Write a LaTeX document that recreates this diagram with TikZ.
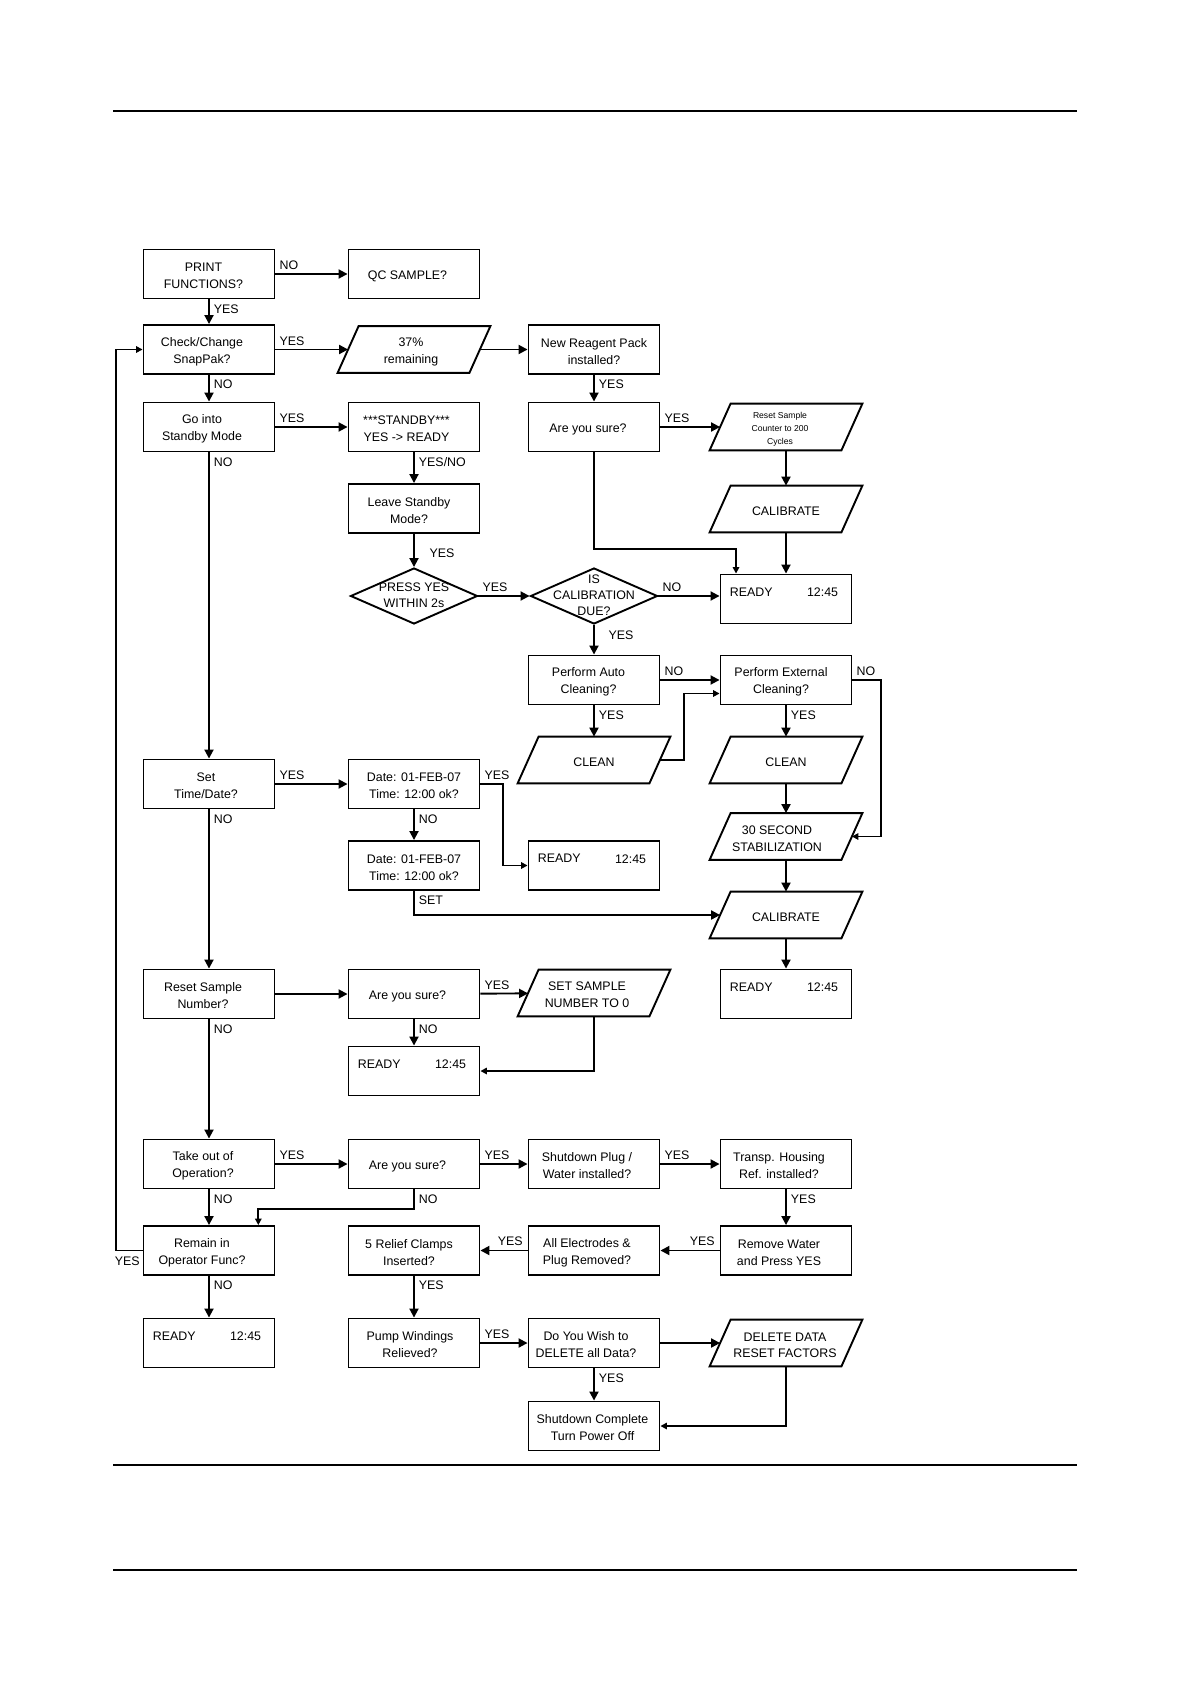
\documentclass[tikz,border=0pt]{standalone}
\usepackage{fontspec}
\setmainfont{Liberation Sans}
\usetikzlibrary{arrows.meta,shapes.geometric,calc}
% box with text shifted horizontally: [shift]{name}{x}{y}{text}
\newcommand\bx[5][0pt]{%
  \node[box,label={[txt,xshift=#1]center:{#5}}] (#2) at (#3,#4) {};}
% parallelogram: {name}{x}{y}{shift}{font}{text}
\newcommand\paranode[6]{%
  \node[pbox,label={[txt,xshift=#4,font=#5]center:{#6}}] (#1) at (#2,#3) {};
  \draw[bline] ([xshift=-5.25pt]#1.south west) -- ([xshift=5.25pt]#1.north west)
    -- ([xshift=5.25pt]#1.north east) -- ([xshift=-5.25pt]#1.south east) -- cycle;
}
\begin{document}
\begin{tikzpicture}[x=0.5pt,y=-0.5pt,
  font=\fontsize{6.2}{8.5}\selectfont,
  bline/.style={line width=0.95pt, line join=miter},
  box/.style={draw, line width=0.95pt, minimum width=65.5pt, minimum height=24.5pt, inner sep=1pt},
  pbox/.style={minimum width=65.5pt, minimum height=23pt, inner sep=1pt},
  txt/.style={inner sep=0pt, align=center, yshift=-1pt, font=\fontsize{6.2}{8.5}\selectfont},
  dtxt/.style={inner sep=0pt, align=center, yshift=0.3pt, font=\fontsize{6.2}{8}\selectfont},
  diam/.style={diamond, draw, line width=0.95pt, minimum width=63.5pt, minimum height=28pt, inner sep=0pt},
  lbl/.style={inner sep=0pt, font=\fontsize{6.2}{8}\selectfont},
  ready/.style={box,
    label={[lbl,anchor=north west,xshift=5pt,yshift=-7pt]north west:READY},
    label={[lbl,anchor=north east,xshift=-7pt,yshift=-7pt]north east:{12:45}}},
  arr/.style={line width=0.95pt, -{Triangle[length=4.5pt,width=4.5pt]}},
  arrs/.style={line width=0.95pt, -{Triangle[length=3.2pt,width=3.2pt]}},
  lh/.style={pos=0, anchor=south west, inner sep=1.6pt},
  lhl/.style={pos=0, anchor=south east, inner sep=2pt},
  lv/.style={pos=0, anchor=north west, inner sep=2pt},
]
\useasboundingbox (0,0) rectangle (1190,1684);
% page rules
\draw[line width=0.65pt] (113,111) -- (1077,111);
\draw[line width=0.65pt] (113,1465) -- (1077,1465);
\draw[line width=0.65pt] (113,1570) -- (1077,1570);

% nodes
\bx[-2.75pt]{print}{209}{274}{PRINT\\FUNCTIONS?}
\bx[-3.25pt]{qc}{414}{274}{QC SAMPLE?}
\bx[-3.5pt]{check}{209}{349.5}{Check/Change\\SnapPak?}
\paranode{pct}{414}{349.5}{-1.5pt}{\fontsize{6.2}{8.5}\selectfont}{37\%\\remaining}
\bx{reagent}{594}{349.5}{New Reagent Pack\\installed?}
\bx[-3.5pt]{goin}{209}{427}{Go into\\Standby Mode}
\bx[-3.75pt]{standby}{414}{427}{***STANDBY***\\YES -> READY}
\bx[-3pt]{sure1}{594}{427}{Are you sure?}
\paranode{counter}{786}{427}{-3pt}{\fontsize{4.3}{6.5}\selectfont}{Reset Sample\\Counter to 200\\Cycles}
\paranode{cal1}{786}{509}{0pt}{\fontsize{6.2}{8.5}\selectfont}{CALIBRATE}
\bx[-2.5pt]{leave}{414}{508.5}{Leave Standby\\Mode?}
\node[diam, label={[dtxt]center:{PRESS YES\\WITHIN 2s}}] (press) at (414,596) {};
\node[diam, label={[dtxt]center:{IS\\CALIBRATION\\DUE?}}] (iscal) at (594,596) {};
\node[ready] (readyE) at (786,599) {};
\bx[-2.75pt]{auto}{594}{680}{Perform Auto\\Cleaning?}
\bx[-2.5pt]{ext}{786}{680}{Perform External\\Cleaning?}
\paranode{clean3}{594}{760}{0pt}{\fontsize{6.2}{8.5}\selectfont}{CLEAN}
\paranode{clean4}{786}{760}{0pt}{\fontsize{6.2}{8.5}\selectfont}{CLEAN}
\bx[-1.5pt]{settime}{209}{784}{Set\\Time/Date?}
\bx{date1}{414}{784}{Date: 01-FEB-07\\Time: 12:00 ok?}
\paranode{sec30}{786}{836.5}{-4.5pt}{\fontsize{6.2}{8.5}\selectfont}{30 SECOND\\STABILIZATION}
\bx{date2}{414}{865.5}{Date: 01-FEB-07\\Time: 12:00 ok?}
\node[ready] (readyH) at (594,865.5) {};
\paranode{cal2}{786}{915}{0pt}{\fontsize{6.2}{8.5}\selectfont}{CALIBRATE}
\bx[-3pt]{resetnum}{209}{994}{Reset Sample\\Number?}
\bx[-3.25pt]{sure2}{414}{994}{Are you sure?}
\paranode{setsample}{594}{993}{-3.5pt}{\fontsize{6.2}{8.5}\selectfont}{SET SAMPLE\\NUMBER TO 0}
\node[ready] (readyI) at (786,994) {};
\node[ready] (readyI2) at (414,1071) {};
\bx[-3pt]{takeout}{209}{1164}{Take out of\\Operation?}
\bx[-3.25pt]{sure3}{414}{1164}{Are you sure?}
\bx[-3.5pt]{plug}{594}{1164}{Shutdown Plug /\\Water installed?}
\bx[-3.5pt]{transp}{786}{1164}{Transp. Housing\\Ref. installed?}
\bx[-3.5pt]{remain}{209}{1250.5}{Remain in\\Operator Func?}
\bx[-2.5pt]{relief}{414}{1250.5}{5 Relief Clamps\\Inserted?}
\bx[-3.5pt]{electrodes}{594}{1250.5}{All Electrodes \&\\Plug Removed?}
\bx[-3.5pt]{remove}{786}{1250.5}{Remove Water\\and Press YES}
\node[ready] (readyL) at (209,1343) {};
\bx[-2pt]{pump}{414}{1343}{Pump Windings\\Relieved?}
\bx[-4pt]{dowish}{594}{1343}{Do You Wish to\\DELETE all Data?}
\paranode{deldata}{786}{1343}{-0.5pt}{\fontsize{6.2}{8}\selectfont}{DELETE DATA\\RESET FACTORS}
\bx[-0.75pt]{shut}{594}{1426}{Shutdown Complete\\Turn Power Off}

% helper coordinates
\coordinate (loopL) at (116,1250.5);
\coordinate (j1) at (594,549.3);
\coordinate (j2) at (684.3,760);
\coordinate (j3) at (881,680);
\coordinate (j4) at (502.6,784);

% connectors
\draw[arr] (print) -- node[lh]{NO} (qc);
\draw[arr] (print) -- node[lv]{YES} (check);
\draw[arr] (check) -- node[lh]{YES} (pct);
\draw[arr] (pct) -- (reagent);
\draw[arr] (check) -- node[lv]{NO} (goin);
\draw[arr] (goin) -- node[lh]{YES} (standby);
\draw[arr] (standby) -- node[lv]{YES/NO} (leave);
\draw[arr] (leave) -- (press);
\node[lbl] (yesleave) at (442,553) {YES};
\draw[arr] (press) -- node[lh]{YES} (iscal);
\draw[arr] (iscal.east) -- node[lh]{NO} (iscal.east -| readyE.west);
\draw[arr] (iscal) -- (auto);
\node[lbl] (yescal) at (621,635) {YES};
\draw[arr] (reagent) -- node[lv]{YES} (sure1);
\draw[arr] (sure1) -- node[lh]{YES} (counter);
\draw[arr] (counter) -- (cal1);
\draw[arr] (cal1) -- (readyE);
\draw[arrs] (sure1.south) -- (j1) -| ($(readyE.north)+(-50,0)$);
\draw[arr] (auto) -- node[lh]{NO} (ext);
\draw[arr] (auto) -- node[lv]{YES} (clean3);
\draw[arrs] (clean3.east) -- (j2) |- ($(ext.west)+(0,13.5)$);
\draw[arr] (ext) -- node[lv]{YES} (clean4);
\draw[arrs] (ext.east) -- node[lh]{NO} (j3) |- (sec30.east);
\draw[arr] (clean4) -- (sec30);
\draw[arr] (sec30) -- (cal2);
\draw[arr] (cal2) -- (readyI);
\draw[arr] (settime) -- node[lh]{YES} (date1);
\draw[arrs] (date1.east) -- node[lh]{YES} (j4) |- (readyH.west);
\draw[arr] (date1) -- node[lv]{NO} (date2);
\draw[arr] (date2.south) |- node[lv]{SET} (cal2.west);
\draw[arr] (goin) -- node[lv]{NO} (settime);
\draw[arr] (settime) -- node[lv]{NO} (resetnum);
\draw[arr] (resetnum) -- (sure2);
\draw[arr] (sure2) -- node[lh]{YES} (setsample);
\draw[arr] (sure2) -- node[lv]{NO} (readyI2);
\draw[arrs] (setsample.south) |- (readyI2.east);
\draw[arr] (resetnum) -- node[lv]{NO} (takeout);
\draw[arr] (takeout) -- node[lh]{YES} (sure3);
\draw[arr] (sure3) -- node[lh]{YES} (plug);
\draw[arr] (plug) -- node[lh]{YES} (transp);
\draw[arr] (takeout) -- node[lv]{NO} (remain);
\draw[arrs] (sure3.south) -- node[lv]{NO} ++(0,19.3) -| ($(remain.north)+(49.3,0)$);
\draw[arr] (transp) -- node[lv]{YES} (remove);
\draw[arr] (remove) -- node[lhl]{YES} (electrodes);
\draw[arr] (electrodes) -- node[lhl]{YES} (relief);
\draw[arr] (relief) -- node[lv]{YES} (pump);
\draw[arr] (remain) -- node[lv]{NO} (readyL);
\draw[arrs] (remain.west) -- (loopL) |- (check.west);
\node[lbl, anchor=north east] (yesloop) at ($(remain.west)+(-2.5,6)$) {YES};
\draw[arr] (pump) -- node[lh]{YES} (dowish);
\draw[arr] (dowish) -- (deldata);
\draw[arr] (dowish) -- node[lv]{YES} (shut);
\draw[arrs] (deldata.south) |- (shut.east);
\end{tikzpicture}
\end{document}
